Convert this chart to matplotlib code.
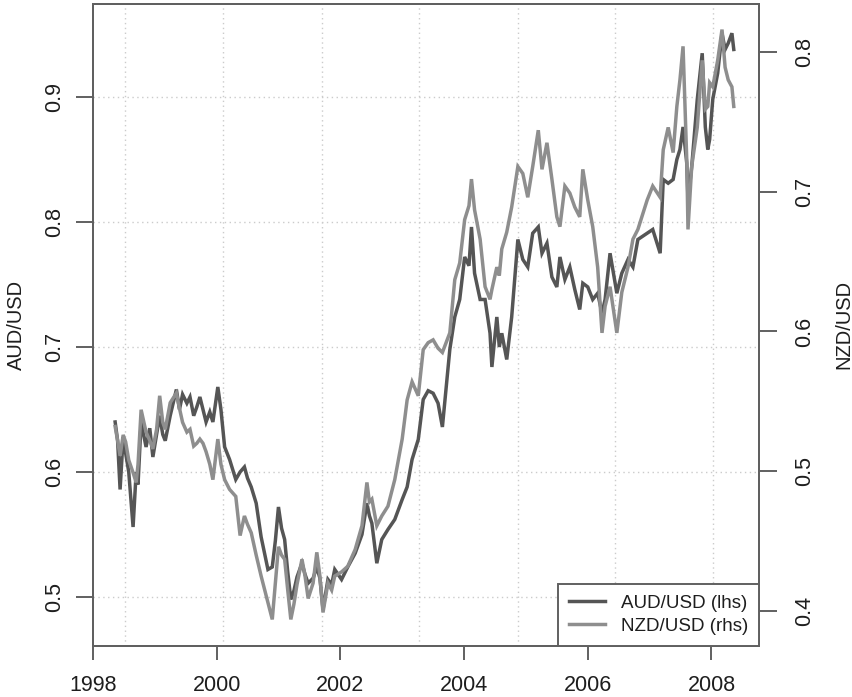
import numpy as np
import matplotlib
matplotlib.use("Agg")
import matplotlib.pyplot as plt
from matplotlib.lines import Line2D

plt.rcParams['font.family'] = ['Liberation Sans', 'DejaVu Sans']

# decimal year, AUD/USD (left axis), NZD/USD (right axis)
t = [1998.36, 1998.40, 1998.44, 1998.49, 1998.53, 1998.58, 1998.65, 1998.70, 1998.73, 1998.78,
     1998.86, 1998.92, 1998.97, 1999.03, 1999.08, 1999.13, 1999.17, 1999.25, 1999.35, 1999.40,
     1999.45, 1999.52, 1999.57, 1999.63, 1999.68, 1999.73, 1999.78, 1999.83, 1999.89, 1999.94,
     2000.02, 2000.07, 2000.13, 2000.21, 2000.31, 2000.38, 2000.45, 2000.50, 2000.56, 2000.64,
     2000.72, 2000.83, 2000.90, 2000.95, 2001.00, 2001.05, 2001.10, 2001.15, 2001.20, 2001.25,
     2001.30, 2001.38, 2001.43, 2001.48, 2001.56, 2001.62, 2001.67, 2001.72, 2001.80, 2001.86,
     2001.91, 2002.02, 2002.12, 2002.24, 2002.35, 2002.43, 2002.47, 2002.51, 2002.59, 2002.67,
     2002.77, 2002.88, 2003.00, 2003.08, 2003.16, 2003.26, 2003.34, 2003.42, 2003.50, 2003.58,
     2003.65, 2003.77, 2003.85, 2003.93, 2004.01, 2004.08, 2004.12, 2004.17, 2004.26, 2004.34,
     2004.42, 2004.45, 2004.53, 2004.57, 2004.61, 2004.69, 2004.77, 2004.87, 2004.95, 2005.03,
     2005.11, 2005.20, 2005.26, 2005.34, 2005.42, 2005.50, 2005.55, 2005.63, 2005.71, 2005.79,
     2005.87, 2005.92, 2006.00, 2006.08, 2006.16, 2006.23, 2006.28, 2006.36, 2006.47, 2006.55,
     2006.65, 2006.73, 2006.81, 2006.96, 2007.05, 2007.17, 2007.22, 2007.30, 2007.38, 2007.44,
     2007.49, 2007.54, 2007.60, 2007.62, 2007.68, 2007.77, 2007.85, 2007.90, 2007.94, 2007.97,
     2008.02, 2008.10, 2008.17, 2008.22, 2008.27, 2008.33, 2008.36]

aud = [0.640, 0.625, 0.586, 0.628, 0.615, 0.600, 0.556, 0.600, 0.590, 0.640,
       0.620, 0.635, 0.612, 0.630, 0.645, 0.630, 0.625, 0.645, 0.666, 0.650,
       0.662, 0.655, 0.660, 0.645, 0.652, 0.660, 0.650, 0.640, 0.648, 0.640,
       0.668, 0.650, 0.620, 0.610, 0.594, 0.600, 0.604, 0.595, 0.588, 0.575,
       0.548, 0.522, 0.524, 0.545, 0.572, 0.555, 0.546, 0.520, 0.498, 0.505,
       0.516, 0.527, 0.518, 0.511, 0.515, 0.524, 0.515, 0.490, 0.514, 0.510,
       0.522, 0.514, 0.524, 0.535, 0.550, 0.575, 0.565, 0.559, 0.527, 0.546,
       0.554, 0.562, 0.578, 0.588, 0.610, 0.626, 0.658, 0.665, 0.663, 0.655,
       0.636, 0.698, 0.724, 0.738, 0.772, 0.765, 0.796, 0.759, 0.738, 0.738,
       0.711, 0.684, 0.724, 0.700, 0.711, 0.690, 0.724, 0.786, 0.770, 0.764,
       0.791, 0.796, 0.775, 0.783, 0.756, 0.748, 0.772, 0.754, 0.764, 0.746,
       0.730, 0.751, 0.748, 0.738, 0.743, 0.727, 0.738, 0.775, 0.743, 0.759,
       0.770, 0.764, 0.786, 0.791, 0.794, 0.775, 0.834, 0.831, 0.834, 0.850,
       0.858, 0.876, 0.847, 0.818, 0.844, 0.898, 0.935, 0.876, 0.858, 0.866,
       0.898, 0.919, 0.951, 0.938, 0.943, 0.951, 0.938]

nzd = [0.532, 0.522, 0.511, 0.526, 0.521, 0.508, 0.499, 0.492, 0.505, 0.544,
       0.528, 0.522, 0.516, 0.530, 0.554, 0.535, 0.530, 0.549, 0.556, 0.545,
       0.535, 0.528, 0.530, 0.518, 0.520, 0.523, 0.520, 0.514, 0.505, 0.494,
       0.523, 0.505, 0.494, 0.487, 0.482, 0.454, 0.468, 0.462, 0.456, 0.440,
       0.425, 0.406, 0.394, 0.420, 0.446, 0.440, 0.437, 0.415, 0.394, 0.405,
       0.419, 0.437, 0.425, 0.409, 0.420, 0.442, 0.425, 0.399, 0.420, 0.415,
       0.425, 0.428, 0.432, 0.444, 0.461, 0.492, 0.478, 0.480, 0.461, 0.468,
       0.475, 0.494, 0.523, 0.551, 0.564, 0.554, 0.587, 0.592, 0.594, 0.588,
       0.585, 0.599, 0.637, 0.649, 0.680, 0.690, 0.709, 0.687, 0.666, 0.632,
       0.623, 0.630, 0.646, 0.640, 0.659, 0.671, 0.689, 0.718, 0.713, 0.696,
       0.718, 0.744, 0.716, 0.735, 0.709, 0.682, 0.675, 0.704, 0.699, 0.689,
       0.682, 0.716, 0.694, 0.675, 0.646, 0.599, 0.618, 0.632, 0.599, 0.628,
       0.646, 0.666, 0.673, 0.694, 0.704, 0.696, 0.730, 0.746, 0.728, 0.761,
       0.780, 0.804, 0.723, 0.673, 0.718, 0.746, 0.794, 0.759, 0.761, 0.778,
       0.775, 0.794, 0.816, 0.789, 0.780, 0.775, 0.761]

x_ticks = [1998, 2000, 2002, 2004, 2006, 2008]
x_grid = [1998.52, 2000.10, 2001.70, 2003.27, 2004.87, 2006.44, 2008.02]
aud_ticks = [0.5, 0.6, 0.7, 0.8, 0.9]
nzd_ticks = [0.4, 0.5, 0.6, 0.7, 0.8]

dark = '#555555'
light = '#8e8e8e'
frame = '#606060'
txt = '#1e1e1e'

fig = plt.figure(figsize=(8.52, 6.97), dpi=100)
ax = fig.add_axes([0.109, 0.0732, 0.782, 0.9211])
ax2 = ax.twinx()

# dotted grid, left axis only
for g in x_grid:
    ax.axvline(g, color='#cbcbcb', lw=1.0, ls=(0, (1, 2.5)), zorder=0)
for g in aud_ticks:
    ax.axhline(g, color='#cbcbcb', lw=1.0, ls=(0, (1, 2.5)), zorder=0)

ax.plot(t, aud, color=dark, lw=2.5, solid_joinstyle='miter')
ax2.plot(t, nzd, color=light, lw=2.5, solid_joinstyle='miter')

ax.set_xlim(1998.0, 2008.77)
ax.set_ylim(0.4608, 0.9744)
ax2.set_ylim(0.375, 0.8343)

ax.set_xticks(x_ticks)
ax.set_xticklabels([str(v) for v in x_ticks])
ax.set_yticks(aud_ticks)
ax.set_yticklabels([str(v) for v in aud_ticks], rotation=90, va='center')
ax2.set_yticks(nzd_ticks)
ax2.set_yticklabels([str(v) for v in nzd_ticks], rotation=90, va='center')

for a in (ax, ax2):
    for s in a.spines.values():
        s.set_color(frame)
        s.set_linewidth(1.4)
ax.tick_params(axis='x', length=10, width=1.4, color=frame, labelsize=15.5, pad=11, labelcolor=txt)
ax.tick_params(axis='y', length=12, width=1.4, color=frame, labelsize=15.5, pad=8, labelcolor=txt)
ax2.tick_params(axis='y', length=13, width=1.4, color=frame, labelsize=15.5, pad=12, labelcolor=txt)

fig.text(0.019, 0.534, 'AUD/USD', rotation=90, ha='center', va='center', fontsize=14.5, color=txt)
fig.text(0.990, 0.534, 'NZD/USD', rotation=90, ha='center', va='center', fontsize=14.5, color=txt)

handles = [Line2D([], [], color=dark, lw=2.5), Line2D([], [], color=light, lw=2.5)]
leg = ax2.legend(handles, ['AUD/USD (lhs)', 'NZD/USD (rhs)'], loc='lower right',
                 fontsize=13.5, frameon=True, fancybox=False,
                 handlelength=1.9, handletextpad=0.85, labelspacing=0.3,
                 borderpad=0.6, borderaxespad=0.0)
leg.get_frame().set_edgecolor(frame)
leg.get_frame().set_linewidth(1.4)
leg.get_frame().set_alpha(1.0)
for text in leg.get_texts():
    text.set_color(txt)

fig.savefig('out.png', dpi=100)
